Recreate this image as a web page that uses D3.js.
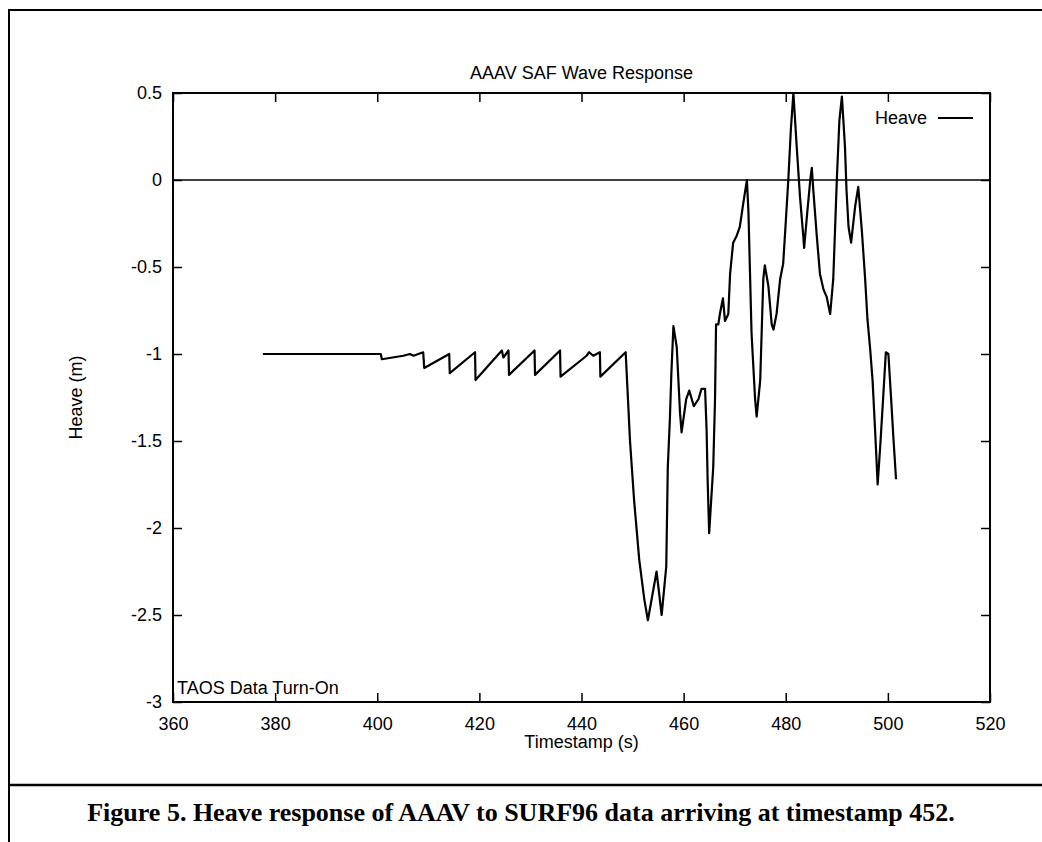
<!DOCTYPE html>
<html>
<head>
<meta charset="utf-8">
<script src="https://cdn.jsdelivr.net/npm/d3@7"></script>
<style>
  body { margin: 0; background: #fff; }
  svg { display: block; }
  .axis text { font-family: "Liberation Sans", Arial, sans-serif; font-size: 18px; fill: #000; }
  .lbl { font-family: "Liberation Sans", Arial, sans-serif; font-size: 18px; fill: #000; }
  .caption { font-family: "Liberation Serif", "Times New Roman", serif; font-weight: bold; font-size: 26px; fill: #000; }
</style>
</head>
<body>
<div id="chart"></div>
<script>
// Datos
let xTicks = [360, 380, 400, 420, 440, 460, 480, 500, 520];
let yTicks = [0.5, 0, -0.5, -1, -1.5, -2, -2.5, -3];
let yTickLabels = ['0.5', '0', '-0.5', '-1', '-1.5', '-2', '-2.5', '-3'];

let timestamp = [
  377.6, 396.6, 400.7, 400.9, 405.1, 406.4, 407.1, 409.0, 409.2, 414.1, 414.2,
  419.15, 419.25, 424.4, 424.7, 425.7, 425.8, 430.8, 430.9, 435.8, 435.9,
  441.0, 441.5, 442.3, 443.6, 443.7, 448.65, 449.0, 449.5, 450.3, 451.3,
  452.3, 453.0, 454.7, 455.7, 456.6, 456.9, 457.3, 457.6, 458.0, 458.65,
  459.3, 459.6, 460.5, 461.1, 462.0, 462.9, 463.5, 464.2, 464.5, 464.7,
  465.0, 465.8, 466.15, 466.35, 466.8, 467.1, 467.7, 468.1, 468.75, 469.1,
  469.7, 470.4, 471.0, 471.7, 472.4, 472.7, 473.3, 474.0, 474.3, 475.0,
  475.6, 475.9, 476.6, 477.25, 477.6, 478.2, 478.9, 479.5, 479.9, 480.5,
  481.0, 481.5, 482.15, 482.8, 483.45, 483.6, 484.2, 484.8, 485.1, 485.4,
  486.1, 486.7, 487.4, 488.0, 488.7, 489.3, 489.65, 490.0, 490.5, 491.0,
  491.6, 491.9, 492.3, 492.8, 493.6, 494.2, 494.9, 495.55, 496.0, 496.5,
  497.0, 497.5, 498.0, 498.5, 499.1, 499.6, 500.1, 500.6, 501.1, 501.6
];
let heave = [
  -1.0, -1.0, -1.0, -1.03, -1.01, -1.0, -1.01, -0.99, -1.08, -1.0, -1.11,
  -0.99, -1.15, -0.98, -1.02, -0.98, -1.12, -0.98, -1.12, -0.98, -1.13,
  -1.01, -0.99, -1.01, -0.99, -1.13, -0.99, -1.2, -1.5, -1.84, -2.18,
  -2.41, -2.53, -2.25, -2.5, -2.22, -1.65, -1.38, -1.11, -0.84, -0.96,
  -1.34, -1.45, -1.26, -1.21, -1.30, -1.26, -1.20, -1.20, -1.44, -1.72,
  -2.03, -1.65, -1.26, -0.83, -0.83, -0.77, -0.68, -0.81, -0.77, -0.54,
  -0.36, -0.32, -0.27, -0.13, 0.0, -0.19, -0.88, -1.26, -1.36, -1.15,
  -0.57, -0.49, -0.61, -0.83, -0.86, -0.77, -0.57, -0.48, -0.29, 0.0,
  0.29, 0.5, 0.19, -0.10, -0.33, -0.39, -0.19, 0.0, 0.07, -0.06,
  -0.33, -0.54, -0.63, -0.67, -0.77, -0.57, -0.29, 0.0, 0.34, 0.48,
  0.19, -0.06, -0.27, -0.36, -0.15, -0.04, -0.29, -0.57, -0.80, -0.96,
  -1.15, -1.44, -1.75, -1.53, -1.24, -0.99, -1.0, -1.24, -1.49, -1.72
];

let data = timestamp.map(function(t, i) { return {t: t, v: heave[i]}; });

let W = 1042, H = 842;
let margin = {top: 93, right: 52, bottom: 140, left: 173};
let width = W - margin.left - margin.right;
let height = 702 - margin.top;

let svg = d3.select('#chart').append('svg')
  .attr('width', W)
  .attr('height', H);

// Marco de la página escaneada
svg.append('path')
  .attr('d', 'M9,842 V10 H1042')
  .attr('fill', 'none').attr('stroke', '#000').attr('stroke-width', 2);
svg.append('line')
  .attr('x1', 9).attr('x2', 1042).attr('y1', 785).attr('y2', 785)
  .attr('stroke', '#000').attr('stroke-width', 2.5);

let chart = svg.append('g')
  .attr('transform', 'translate(' + margin.left + ',' + margin.top + ')');

let x = d3.scaleLinear().domain([360, 520]).range([0, width]);
let y = d3.scaleLinear().domain([-3, 0.5]).range([height, 0]);

function thickTicks(g) {
  g.select('.domain').remove();
  g.selectAll('.tick line').attr('stroke-width', 1.5);
}

// Eje X (abajo) con ticks hacia dentro
chart.append('g')
  .attr('class', 'axis')
  .attr('transform', 'translate(0,' + height + ')')
  .call(d3.axisBottom(x).tickValues(xTicks).tickSizeInner(-9).tickSizeOuter(0).tickPadding(15))
  .call(thickTicks);

// Ticks espejo arriba
chart.append('g')
  .call(d3.axisTop(x).tickValues(xTicks).tickSizeInner(-9).tickSizeOuter(0).tickFormat(''))
  .call(thickTicks);

// Eje Y
chart.append('g')
  .attr('class', 'axis')
  .call(d3.axisLeft(y).tickValues(yTicks).tickSizeInner(-9).tickSizeOuter(0).tickPadding(11)
    .tickFormat(function(d, i) { return yTickLabels[i]; }))
  .call(thickTicks);

chart.append('g')
  .attr('transform', 'translate(' + width + ',0)')
  .call(d3.axisRight(y).tickValues(yTicks).tickSizeInner(-9).tickSizeOuter(0).tickFormat(''))
  .call(thickTicks);

// Línea de cero
chart.append('line')
  .attr('x1', 0).attr('x2', width)
  .attr('y1', y(0)).attr('y2', y(0))
  .attr('stroke', '#000').attr('stroke-width', 1.5);

// Borde del gráfico
chart.append('rect')
  .attr('width', width).attr('height', height)
  .attr('fill', 'none').attr('stroke', '#000').attr('stroke-width', 2);

// Serie Heave
let line = d3.line()
  .x(function(d) { return x(d.t); })
  .y(function(d) { return y(d.v); });

chart.append('path')
  .datum(data)
  .attr('d', line)
  .attr('fill', 'none')
  .attr('stroke', '#000')
  .attr('stroke-width', 2.2)
  .attr('stroke-linejoin', 'round');

// Leyenda
chart.append('text')
  .attr('class', 'lbl')
  .attr('x', width - 63).attr('y', 25)
  .attr('dy', '0.35em')
  .attr('text-anchor', 'end')
  .text('Heave');
chart.append('line')
  .attr('x1', width - 52).attr('x2', width - 17)
  .attr('y1', 25).attr('y2', 25)
  .attr('stroke', '#000').attr('stroke-width', 2);

// Anotación
chart.append('text')
  .attr('class', 'lbl')
  .attr('x', 4).attr('y', height - 14)
  .attr('dy', '0.35em')
  .text('TAOS Data Turn-On');

// Títulos
svg.append('text')
  .attr('class', 'lbl')
  .attr('x', margin.left + width / 2).attr('y', 73)
  .attr('dy', '0.35em')
  .attr('text-anchor', 'middle')
  .text('AAAV SAF Wave Response');

svg.append('text')
  .attr('class', 'lbl')
  .attr('x', margin.left + width / 2).attr('y', 742)
  .attr('dy', '0.35em')
  .attr('text-anchor', 'middle')
  .text('Timestamp (s)');

svg.append('text')
  .attr('class', 'lbl')
  .attr('transform', 'translate(76,' + (margin.top + height / 2) + ') rotate(-90)')
  .attr('dy', '0.35em')
  .attr('text-anchor', 'middle')
  .text('Heave (m)');

svg.append('text')
  .attr('class', 'caption')
  .attr('x', 521).attr('y', 812)
  .attr('dy', '0.35em')
  .attr('text-anchor', 'middle')
  .text('Figure 5. Heave response of AAAV to SURF96 data arriving at timestamp 452.');
</script>
</body>
</html>
